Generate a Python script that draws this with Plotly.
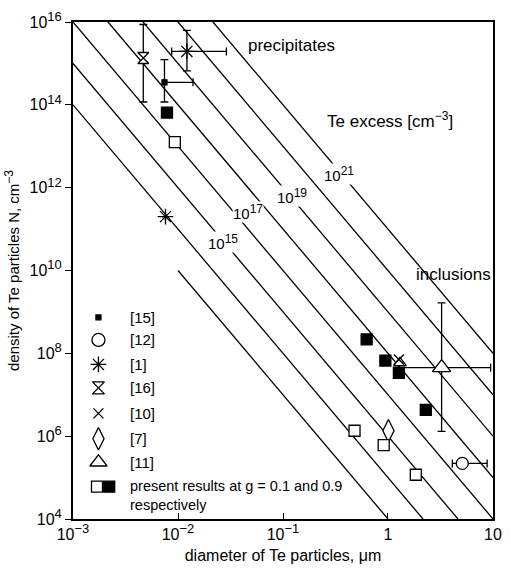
import numpy as np
import plotly.graph_objects as go

# Te excess iso-lines [cm^-3]; N * d^3 = excess / K  (d in um)
excess_levels = [1e14, 1e15, 1e16, 1e17, 1e18, 1e19, 1e20, 1e21]
line_dmin = {1e14: 0.01}          # the lowest line starts at d = 0.01 um
K = 1e10
labelled = {1e15: (210, 238), 1e17: (252, 207), 1e19: (297, 180), 1e21: (345, 157)}

# literature data
ref15_d, ref15_N = [0.00743], [3.5e14]
ref15_dplus = [0.0139]
ref15_Nlo, ref15_Nhi = [1.17e14], [1.23e15]

ref12_d, ref12_N = [5.1], [2.2e5]
ref12_dlo, ref12_dhi = [4.1], [8.8]

ref1_d, ref1_N = [0.01216, 0.0076], [1.95e15, 2.0e11]
ref1_dlo, ref1_dhi = [0.0087, 0.0076], [0.0289, 0.0076]
ref1_Nlo, ref1_Nhi = [6.6e14, 2.0e11], [6.3e15, 2.0e11]

ref16_d, ref16_N = [0.00467], [1.35e15]
ref16_Nlo, ref16_Nhi = [1.17e14], [8.7e15]

ref10_d, ref10_N = [1.27], [7.1e7]
ref7_d, ref7_N = [1.01], [1.35e6]

ref11_d, ref11_N = [3.24], [4.5e7]
ref11_dlo, ref11_dhi = [1.25], [9.5]
ref11_Nlo, ref11_Nhi = [1.31e6], [1.66e9]
ref11b_d, ref11b_N = [1.30], [5.9e7]

# present results, g = 0.1 (open) and g = 0.9 (filled)
g01_d = [0.00933, 0.48, 0.91, 1.84]
g01_N = [1.26e13, 1.35e6, 6.1e5, 1.17e5]
g09_d = [0.00785, 0.626, 0.944, 1.27, 2.29]
g09_N = [6.5e13, 2.17e8, 6.7e7, 3.4e7, 4.3e6]

legend_items = [("square", 5, "[15]"), ("circle", 13, "[12]"),
                ("asterisk-open", 13, "[1]"), ("hourglass", 12, "[16]"),
                ("x-thin-open", 10, "[10]"), ("diamond-tall", 16, "[7]"),
                ("triangle-up", 15, "[11]")]

FONT = "Liberation Sans, Arial, sans-serif"
W, H = 511, 571
L, R, T, B = 73, 9, 13, 50
pw, ph = W - L - R, H - T - B
blk = "black"


def px(xp):
    return (xp - L) / pw


def py(yp):
    return (H - B - yp) / ph


def sup(s, size=12):
    return f"<sup><span style='font-size:{size}px'>{s}</span></sup>"


def mk(sym, size, filled=False):
    # line-type glyphs are stroked with marker.line.color
    line_glyph = sym.startswith(("asterisk", "x-thin"))
    return dict(symbol=sym, size=size,
                color=blk if (filled or line_glyph) else "white",
                line=dict(color=blk, width=1.3))


fig = go.Figure()

# iso-lines
for ex in excess_levels:
    C = ex / K
    dmin = max(1e-3, (C / 1e16) ** (1 / 3), line_dmin.get(ex, 0))
    dmax = min(10.0, (C / 1e4) ** (1 / 3))
    if dmin >= dmax:
        continue
    d = np.array([dmin, dmax])
    fig.add_trace(go.Scatter(x=d, y=C / d ** 3, mode="lines",
                             line=dict(color=blk, width=1.3),
                             hoverinfo="skip", showlegend=False))


def err(arr, arrm, w=4):
    return dict(type="data", symmetric=False, array=arr, arrayminus=arrm,
                color=blk, thickness=1.3, width=w)


def pts(x, y, marker, ex=None, ey=None):
    fig.add_trace(go.Scatter(x=x, y=y, mode="markers", marker=marker,
                             error_x=ex, error_y=ey, showlegend=False,
                             hoverinfo="skip"))


def up(hi, v):
    return [a - b for a, b in zip(hi, v)]


def down(lo, v):
    return [b - a for a, b in zip(lo, v)]


# [15]
pts(ref15_d, ref15_N, mk("square", 5, True),
    ex=err(up(ref15_dplus, ref15_d), [0]),
    ey=err(up(ref15_Nhi, ref15_N), down(ref15_Nlo, ref15_N)))
# [16]
pts(ref16_d, ref16_N, mk("hourglass", 11),
    ey=err(up(ref16_Nhi, ref16_N), down(ref16_Nlo, ref16_N)))
# [1]
pts(ref1_d, ref1_N, mk("asterisk-open", 13),
    ex=err(up(ref1_dhi, ref1_d), down(ref1_dlo, ref1_d)),
    ey=err(up(ref1_Nhi, ref1_N), down(ref1_Nlo, ref1_N)))
# [11]
pts(ref11_d, ref11_N, mk("triangle-up", 16),
    ex=err(up(ref11_dhi, ref11_d), down(ref11_dlo, ref11_d)),
    ey=err(up(ref11_Nhi, ref11_N), down(ref11_Nlo, ref11_N)))
pts(ref11b_d, ref11b_N, mk("triangle-up", 11))
# [10]
pts(ref10_d, ref10_N, mk("x-thin-open", 10))
# [7]
pts(ref7_d, ref7_N, mk("diamond-tall", 16))
# [12]
pts(ref12_d, ref12_N, mk("circle", 12),
    ex=err(up(ref12_dhi, ref12_d), down(ref12_dlo, ref12_d)))
# present results
pts(g01_d, g01_N, mk("square", 11))
pts(g09_d, g09_N, mk("square", 11, True))

# legend, drawn on an overlay axis in plot-fraction units
lx, tx = px(99), px(129)
rows = [315, 338, 363, 387, 413, 439, 463]
for (sym, size, txt), yp in zip(legend_items, rows):
    fig.add_trace(go.Scatter(
        x=[lx], y=[py(yp)], xaxis="x2", yaxis="y2", mode="markers",
        marker=mk(sym, size, filled=(sym == "square")),
        showlegend=False, hoverinfo="skip"))
    fig.add_annotation(x=tx, y=py(yp), xref="paper", yref="paper", text=txt,
                       showarrow=False, xanchor="left", yanchor="middle",
                       font=dict(size=15, color=blk, family=FONT))
fig.add_trace(go.Scatter(
    x=[px(97.5), px(110)], y=[py(488), py(488)], xaxis="x2", yaxis="y2",
    mode="markers",
    marker=dict(symbol="square", size=11, color=["white", blk],
                line=dict(color=blk, width=1.3)),
    showlegend=False, hoverinfo="skip"))
fig.add_annotation(x=tx, y=py(497), xref="paper", yref="paper",
                   text="present results at g = 0.1 and 0.9<br>respectively",
                   showarrow=False, xanchor="left", yanchor="middle", align="left",
                   font=dict(size=14.5, color=blk, family=FONT))

# iso-line labels
for ex, (xp, yp) in labelled.items():
    k = int(round(np.log10(ex)))
    fig.add_annotation(x=px(xp), y=py(yp), xref="paper", yref="paper",
                       text="10" + sup(k, 12), showarrow=False,
                       bgcolor="white", borderpad=0,
                       font=dict(size=15, color=blk, family=FONT))

for txt, xp, yp in [("precipitates", 250, 37),
                    ("Te excess [cm" + sup("−3", 12) + "]", 330, 113),
                    ("inclusions", 421, 271)]:
    fig.add_annotation(x=px(xp), y=py(yp), xref="paper", yref="paper", text=txt,
                       showarrow=False, xanchor="left", yanchor="middle",
                       font=dict(size=17, color=blk, family=FONT))

xt = [1e-3, 1e-2, 1e-1, 1, 10]
xtt = ["10" + sup("−3", 13), "10" + sup("−2", 13), "10" + sup("−1", 13), "1", "10"]
yt = [1e4, 1e6, 1e8, 1e10, 1e12, 1e14, 1e16]
ytt = ["10" + sup(int(np.log10(v)), 13) for v in yt]

eps = 1e-4
fig.update_layout(
    width=W, height=H, margin=dict(l=L, r=R, t=T, b=B),
    paper_bgcolor="white", plot_bgcolor="white",
    font=dict(family=FONT, color=blk, size=15),
    xaxis=dict(type="log", range=[-3 - eps, 1 + eps], tickvals=xt, ticktext=xtt,
               ticks="inside", ticklen=6, tickwidth=1.3, tickcolor=blk,
               tickfont=dict(size=16), ticklabeloverflow="allow",
               showline=True, linecolor=blk, linewidth=2, mirror=True,
               showgrid=False, zeroline=False,
               title=dict(text="diameter of Te particles, μm", standoff=8,
                          font=dict(size=16))),
    yaxis=dict(type="log", range=[4 - eps, 16 + eps], tickvals=yt, ticktext=ytt,
               ticks="outside", ticklen=6, tickwidth=1.3, tickcolor=blk,
               tickfont=dict(size=16), ticklabeloverflow="allow",
               showline=True, linecolor=blk, linewidth=2, mirror=True,
               showgrid=False, zeroline=False,
               title=dict(text="density of Te particles N, cm" + sup("−3", 12),
                          standoff=6, font=dict(size=15))),
    xaxis2=dict(overlaying="x", range=[0, 1], visible=False, anchor="y2"),
    yaxis2=dict(overlaying="y", range=[0, 1], visible=False, anchor="x2"),
)

fig.write_html("out.html")
